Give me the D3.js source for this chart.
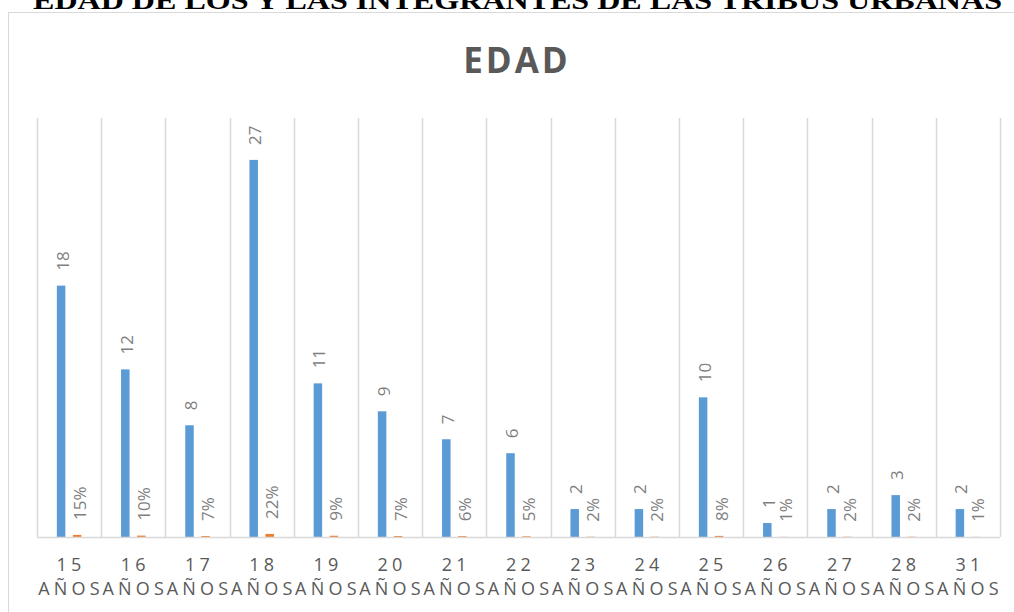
<!DOCTYPE html>
<html lang="es">
<head>
    <meta charset="UTF-8">
    <title>Edad</title>
    <style>
        body{ margin:0; background:#fff; }
        svg{ display:block; }
        .lbl{ font-family:"Open Sans", sans-serif; fill:#7f7f7f; }
        .axisLbl{ font-family:"Open Sans", sans-serif; fill:#595959; }
    </style>
    <script src="https://cdn.jsdelivr.net/npm/d3@7"></script>
</head>
<body>
<script>
    const width = 1014
    const height = 612

    // data
    const edades = ["15","16","17","18","19","20","21","22","23","24","25","26","27","28","31"]
    const cantidad = [18,12,8,27,11,9,7,6,2,2,10,1,2,3,2]
    const porcentaje = [0.15,0.10,0.07,0.22,0.09,0.07,0.06,0.05,0.02,0.02,0.08,0.01,0.02,0.02,0.01]
    const yMax = 30

    const svg = d3.select("body").append("svg")
        .attr("width", width).attr("height", height)

    // page title (cut at top, as in the original document)
    svg.append("text")
        .attr("x", 33).attr("y", 9)
        .attr("textLength", 969)
        .attr("lengthAdjust", "spacingAndGlyphs")
        .style("font-family", "'Liberation Serif', serif")
        .style("font-weight", "bold")
        .style("font-size", "25px")
        .attr("fill", "#000")
        .text("EDAD DE LOS Y LAS INTEGRANTES DE LAS TRIBUS URBANAS")

    // chart frame
    svg.append("rect")
        .attr("x", 8.5).attr("y", 12.5)
        .attr("width", 1020).attr("height", 620)
        .attr("fill", "#fff")
        .attr("stroke", "#d9d9d9")

    svg.append("text")
        .attr("x", 517).attr("y", 73)
        .attr("text-anchor", "middle")
        .style("font-family", "'Open Sans', sans-serif")
        .style("font-weight", "bold")
        .style("font-size", "35px")
        .style("letter-spacing", "3px")
        .attr("fill", "#595959")
        .text("EDAD")

    const plotL = 37, plotR = 1000, plotT = 118, plotB = 537

    const x = d3.scaleBand().domain(edades).range([plotL, plotR])
    const y = d3.scaleLinear().domain([0, yMax]).range([plotB, plotT])

    const g = svg.append("g")

    // vertical gridlines between categories
    g.selectAll(".grid")
        .data(edades.concat(["end"]))
        .enter()
        .append("line")
        .attr("x1", (d,i)=> Math.round(plotL + i*x.bandwidth()) + 0.5)
        .attr("x2", (d,i)=> Math.round(plotL + i*x.bandwidth()) + 0.5)
        .attr("y1", plotT).attr("y2", plotB)
        .attr("stroke", "#d9d9d9").attr("stroke-width", 1.5)

    const barW = 8.5
    const off = 8

    // blue bars (count)
    g.selectAll(".cnt")
        .data(cantidad)
        .enter()
        .append("rect")
        .attr("x", (d,i)=> x(edades[i]) + x.bandwidth()/2 - off - barW/2)
        .attr("y", d=> y(d))
        .attr("width", barW)
        .attr("height", d=> plotB - y(d))
        .attr("fill", "#5b9bd5")

    // orange bars (percentage)
    g.selectAll(".pct")
        .data(porcentaje)
        .enter()
        .append("rect")
        .attr("x", (d,i)=> x(edades[i]) + x.bandwidth()/2 + off - barW/2)
        .attr("y", d=> y(d))
        .attr("width", barW)
        .attr("height", d=> plotB - y(d))
        .attr("fill", "#ed7d31")

    // axis line
    g.append("line")
        .attr("x1", plotL).attr("x2", plotR)
        .attr("y1", plotB + 0.5).attr("y2", plotB + 0.5)
        .attr("stroke", "#d9d9d9").attr("stroke-width", 1.5)

    // data labels, rotated
    g.selectAll(".cntLbl")
        .data(cantidad)
        .enter()
        .append("text")
        .attr("class", "lbl")
        .attr("transform", (d,i)=> `translate(${x(edades[i]) + x.bandwidth()/2 - off + 1},${y(d) - 15}) rotate(-90)`)
        .attr("dominant-baseline", "central")
        .style("font-size", "17px")
        .text(d=>d)

    g.selectAll(".pctLbl")
        .data(porcentaje)
        .enter()
        .append("text")
        .attr("class", "lbl")
        .attr("transform", (d,i)=> `translate(${x(edades[i]) + x.bandwidth()/2 + off + 2},${y(d) - 15}) rotate(-90)`)
        .attr("dominant-baseline", "central")
        .style("font-size", "17px")
        .text(d=> Math.round(d*100) + "%")

    // category labels
    const cat = g.selectAll(".cat")
        .data(edades)
        .enter()
        .append("text")
        .attr("class", "axisLbl")
        .attr("text-anchor", "middle")
        .style("font-size", "18px")
        .style("letter-spacing", "4.2px")
    cat.append("tspan")
        .attr("x", d=> x(d) + x.bandwidth()/2 + 2)
        .attr("y", 571)
        .text(d=>d)
    cat.append("tspan")
        .attr("x", d=> x(d) + x.bandwidth()/2 + 2)
        .attr("y", 595)
        .text("AÑOS")
</script>
</body>
</html>
